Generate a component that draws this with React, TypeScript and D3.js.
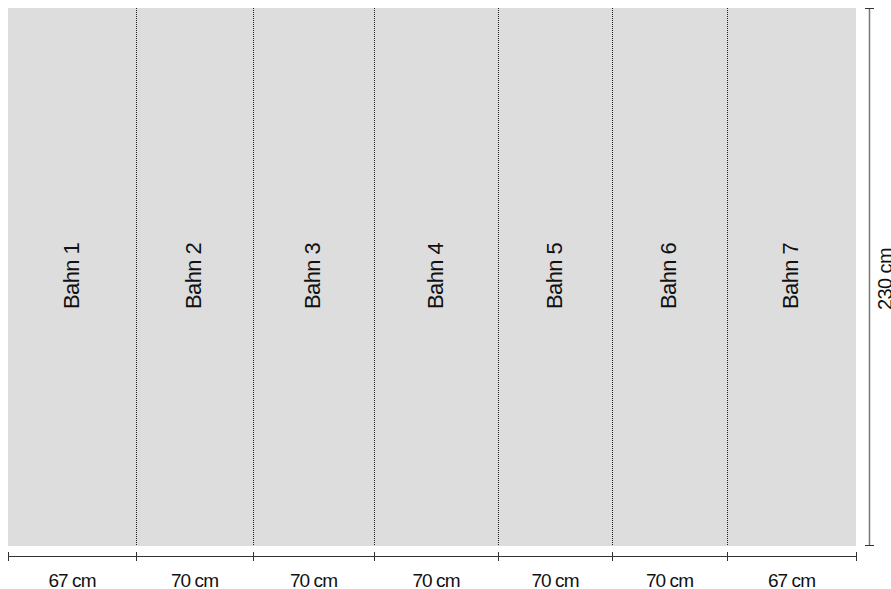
import React from "react";
import * as d3 from "d3";

// Panel labels and nominal widths (cm)
const panelNames = ["Bahn 1", "Bahn 2", "Bahn 3", "Bahn 4", "Bahn 5", "Bahn 6", "Bahn 7"];
const panelWidthsCm = [67, 70, 70, 70, 70, 70, 67];
// Drawn relative widths of each panel
const panelDrawnWidths = [128, 117, 121, 124, 114, 115, 129];
const heightCm = 230;

const W = 891;
const H = 589;
const left = 8;
const right = 856;
const top = 8;
const bottom = 546;

export default function App() {
  const total = d3.sum(panelDrawnWidths);
  const x = d3.scaleLinear().domain([0, total]).range([left, right]);
  const y = d3.scaleLinear().domain([heightCm, 0]).range([top, bottom]);
  const cum = [0, ...d3.cumsum(panelDrawnWidths)];
  const bounds = cum.map((c) => x(c));
  const midY = (y(heightCm) + y(0)) / 2;
  const font = "'Liberation Sans', Arial, Helvetica, sans-serif";

  return (
    <div style={{ position: "absolute", left: 0, top: 0 }}>
      <svg width={W} height={H} style={{ display: "block" }}>
        <rect x={left} y={y(heightCm)} width={right - left} height={y(0) - y(heightCm)} fill="#dddddd" />
        {bounds.slice(1, -1).map((bx, i) => (
          <line key={"s" + i} x1={Math.round(bx) + 0.5} x2={Math.round(bx) + 0.5} y1={top} y2={bottom}
            stroke="#222" strokeWidth={1} strokeDasharray="1,1" />
        ))}
        {panelNames.map((n, i) => {
          const cx = (bounds[i] + bounds[i + 1]) / 2 - 1;
          return (
            <text key={"n" + i} transform={`translate(${cx},${midY - 1}) rotate(-90)`} textAnchor="middle"
              dominantBaseline="central" fontFamily={font} fontSize={22} letterSpacing={-0.6} fill="#111">
              {n}
            </text>
          );
        })}
        {/* bottom dimension axis */}
        <line x1={left} x2={right} y1={556.5} y2={556.5} stroke="#333" strokeWidth={1} />
        {bounds.map((bx, i) => (
          <line key={"t" + i} x1={Math.round(bx) + 0.5} x2={Math.round(bx) + 0.5} y1={552} y2={561}
            stroke="#333" strokeWidth={1} />
        ))}
        {panelWidthsCm.map((w, i) => {
          const cx = (bounds[i] + bounds[i + 1]) / 2;
          return (
            <text key={"w" + i} x={cx} y={587} textAnchor="middle" fontFamily={font} fontSize={19}
              letterSpacing={-0.9} fill="#111">
              {w} cm
            </text>
          );
        })}
        {/* right height dimension */}
        <line x1={869.5} x2={869.5} y1={y(heightCm)} y2={y(0) - 1} stroke="#777" strokeWidth={1.5} />
        <line x1={865} x2={874} y1={y(heightCm) + 0.5} y2={y(heightCm) + 0.5} stroke="#333" strokeWidth={1} />
        <line x1={865} x2={874} y1={y(0) - 0.5} y2={y(0) - 0.5} stroke="#333" strokeWidth={1} />
        <text transform={`translate(885,${midY + 2}) rotate(-90)`} textAnchor="middle" dominantBaseline="central"
          fontFamily={font} fontSize={20} letterSpacing={-0.6} fill="#111">
          {heightCm} cm
        </text>
      </svg>
    </div>
  );
}
